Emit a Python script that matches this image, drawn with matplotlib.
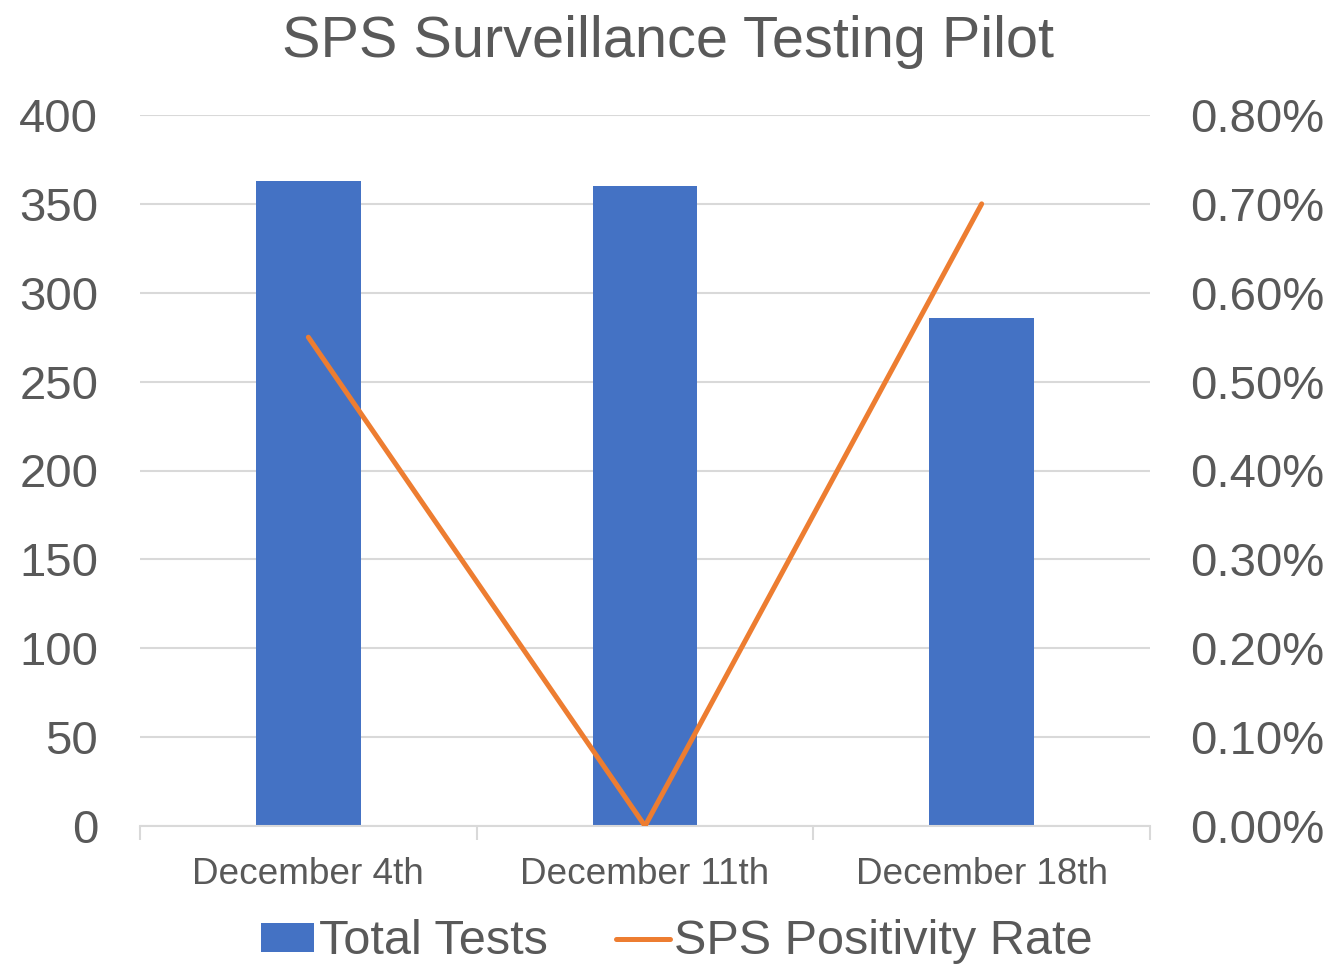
import matplotlib
matplotlib.use("Agg")
import matplotlib.pyplot as plt
from matplotlib.ticker import PercentFormatter

plt.rcParams['font.family'] = ['Liberation Sans', 'DejaVu Sans']

# data
weeks = ['December 4th', 'December 11th', 'December 18th']
total_tests = [363, 360, 286]
positivity = [0.0055, 0.0, 0.007]

BLUE = '#4472C4'
ORANGE = '#ED7D31'
TEXT = '#595959'
GRID = '#D9D9D9'

fig = plt.figure(figsize=(13.37, 9.64), dpi=100)
ax = fig.add_axes([140 / 1337, 1 - 826 / 964, 1010 / 1337, 711 / 964])
ax2 = ax.twinx()

x = list(range(len(weeks)))
bars = ax.bar(x, total_tests, width=0.31, color=BLUE, zorder=2, label='Total Tests')
line, = ax2.plot(x, positivity, color=ORANGE, lw=3.6, solid_capstyle='round', zorder=3,
                 label='SPS Positivity Rate')

ax.set_xlim(-0.5, 2.5)
ax.set_ylim(0, 400)
ax.set_yticks(range(0, 401, 50))
ax2.set_ylim(0, 0.008)
ax2.set_yticks([i * 0.001 for i in range(9)])
ax2.yaxis.set_major_formatter(PercentFormatter(xmax=1, decimals=2))

ax.grid(axis='y', color=GRID, lw=1.5, zorder=0)
ax.set_axisbelow(True)
for a in (ax, ax2):
    for s in a.spines.values():
        s.set_visible(False)
ax.spines['bottom'].set_visible(True)
ax.spines['bottom'].set_color(GRID)
ax.spines['bottom'].set_linewidth(1.5)

ax.tick_params(axis='y', length=0, pad=30, labelsize=34, labelcolor=TEXT)
ax2.tick_params(axis='y', length=0, pad=29, labelsize=34, labelcolor=TEXT)

# category boundary ticks, labels centred under bars
ax.set_xticks([-0.5, 0.5, 1.5, 2.5])
ax.set_xticklabels([])
ax.set_xticks(x, minor=True)
ax.set_xticklabels(weeks, minor=True)
ax.tick_params(axis='x', which='major', length=10, width=1.5, color=GRID)
ax.tick_params(axis='x', which='minor', length=0, pad=22, labelsize=26.6, labelcolor=TEXT)

fig.text(0.5, 1 - 42 / 964, 'SPS Surveillance Testing Pilot', ha='center', va='center',
         fontsize=41.5, color=TEXT)

fig.legend([bars, line], ['Total Tests', 'SPS Positivity Rate'], loc='center',
           bbox_to_anchor=(677 / 1337, 1 - 942 / 964), ncol=2, frameon=False,
           fontsize=35, labelcolor=TEXT, handlelength=1.1, handletextpad=0.1,
           columnspacing=1.4, handleheight=0.55)

fig.savefig('out.png', dpi=100)
